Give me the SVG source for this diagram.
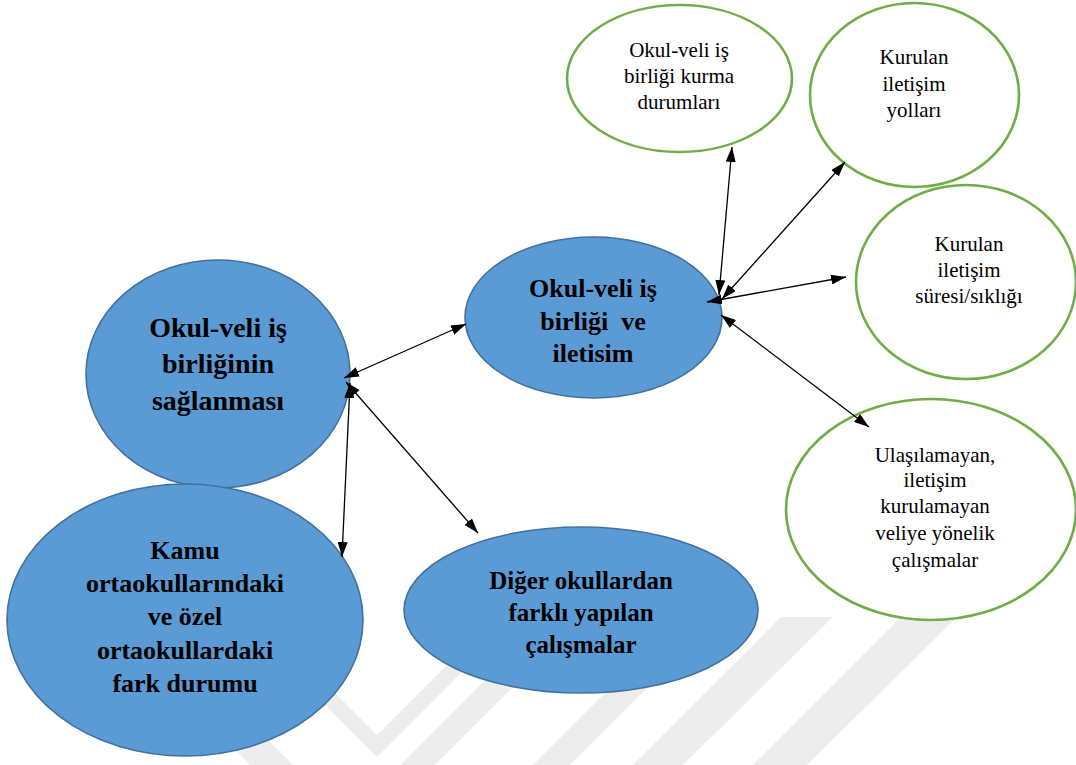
<svg xmlns="http://www.w3.org/2000/svg" width="1076" height="765" viewBox="0 0 1076 765">
  <defs>
    <marker id="ah" viewBox="0 0 15 10" refX="15" refY="5" markerWidth="15" markerHeight="10" markerUnits="userSpaceOnUse" orient="auto-start-reverse">
      <path d="M0,0 L15,5 L0,10 z" fill="#000"/>
    </marker>
    <style>
      .blue { fill: #5b9bd5; stroke: #41719c; stroke-width: 1.6; }
      .green { fill: #ffffff; stroke: #70ad47; stroke-width: 2.6; }
      .bt { font-family: "Liberation Serif", "Times New Roman", serif; font-weight: bold; fill: #000; text-anchor: middle; }
      .gt { font-family: "Liberation Serif", "Times New Roman", serif; font-size: 21px; fill: #000; text-anchor: middle; }
      .conn line { stroke: #000; stroke-width: 1.3; marker-start: url(#ah); marker-end: url(#ah); }
      .wm { fill: #ededed; }
    </style>
  </defs>
  <rect width="1076" height="765" fill="#ffffff"/>
  <g id="watermark">
    <polygon class="wm" points="250,765 293,765 190,662 147,662"/>
    <polygon class="wm" points="240,620 377,757 490,644 468,644 377,735 262,620"/>
    <polygon class="wm" points="400,765 435,765 585,615 550,615"/>
    <polygon class="wm" points="533,765 570,765 720,615 683,615"/>
    <polygon class="wm" points="633,765 683,765 833,617 781,617"/>
    <polygon class="wm" points="753,765 807,765 957,617 901,617"/>
  </g>
  <g id="n-saglanmasi">
    <ellipse class="blue" cx="218" cy="374" rx="132" ry="114"/>
    <text class="bt" font-size="28" x="218" y="337">Okul-veli iş</text>
    <text class="bt" font-size="28" x="218" y="373">birliğinin</text>
    <text class="bt" font-size="28" x="218" y="410">sağlanması</text>
  </g>
  <g id="n-kamu">
    <ellipse class="blue" cx="185" cy="620" rx="178" ry="136"/>
    <text class="bt" font-size="26" x="185" y="559">Kamu</text>
    <text class="bt" font-size="26" x="185" y="592">ortaokullarındaki</text>
    <text class="bt" font-size="26" x="185" y="625">ve özel</text>
    <text class="bt" font-size="26" x="185" y="659">ortaokullardaki</text>
    <text class="bt" font-size="26" x="185" y="692">fark durumu</text>
  </g>
  <g id="n-iletisim">
    <ellipse class="blue" cx="593.5" cy="317.5" rx="128.5" ry="80.5"/>
    <text class="bt" font-size="26" x="593" y="297">Okul-veli iş</text>
    <text class="bt" font-size="26" x="593" y="330" style="white-space:pre">birliği  ve</text>
    <text class="bt" font-size="26" x="593" y="362">iletisim</text>
  </g>
  <g id="n-diger">
    <ellipse class="blue" cx="581" cy="610" rx="177" ry="83"/>
    <text class="bt" font-size="25" x="581" y="589">Diğer okullardan</text>
    <text class="bt" font-size="25" x="581" y="621">farklı yapılan</text>
    <text class="bt" font-size="25" x="581" y="653">çalışmalar</text>
  </g>
  <g id="n-durumlari">
    <ellipse class="green" cx="679.5" cy="78.5" rx="112.5" ry="73.5"/>
    <text class="gt" x="679" y="57">Okul-veli iş</text>
    <text class="gt" x="679" y="83">birliği kurma</text>
    <text class="gt" x="679" y="109">durumları</text>
  </g>
  <g id="n-yollari">
    <ellipse class="green" cx="914.5" cy="95" rx="104.5" ry="92"/>
    <text class="gt" x="914" y="64">Kurulan</text>
    <text class="gt" x="914" y="91">iletişim</text>
    <text class="gt" x="914" y="117">yolları</text>
  </g>
  <g id="n-suresi">
    <ellipse class="green" cx="966" cy="282" rx="110" ry="97"/>
    <text class="gt" x="969" y="251">Kurulan</text>
    <text class="gt" x="969" y="277">iletişim</text>
    <text class="gt" x="969" y="303">süresi/sıklığı</text>
  </g>
  <g id="n-ulasilamayan">
    <ellipse class="green" cx="931" cy="509.5" rx="145" ry="110.5"/>
    <text class="gt" x="935" y="462">Ulaşılamayan,</text>
    <text class="gt" x="935" y="487">iletişim</text>
    <text class="gt" x="935" y="513">kurulamayan</text>
    <text class="gt" x="935" y="540">veliye yönelik</text>
    <text class="gt" x="935" y="567">çalışmalar</text>
  </g>
  <g id="connectors" class="conn">
    <line x1="344" y1="378" x2="466" y2="324"/>
    <line x1="346" y1="382" x2="478" y2="533"/>
    <line x1="350" y1="383" x2="342" y2="557"/>
    <line x1="719" y1="295" x2="732" y2="147"/>
    <line x1="722" y1="299" x2="845" y2="162"/>
    <line x1="707" y1="302" x2="846" y2="277"/>
    <line x1="721" y1="315" x2="869" y2="427"/>
  </g>
</svg>
